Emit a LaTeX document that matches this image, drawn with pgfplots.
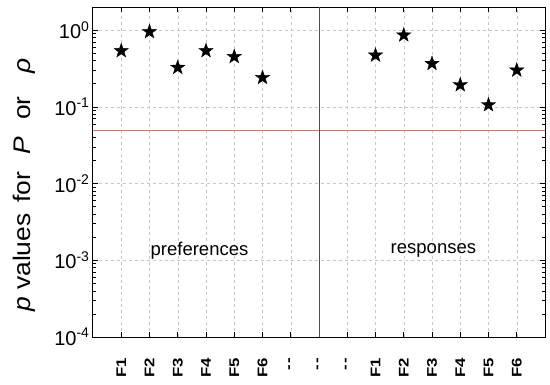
\documentclass[border=0pt]{standalone}
\usepackage{fontspec}
\setmainfont{Liberation Sans}
\usepackage{pgfplots}
\pgfplotsset{compat=1.18}
\definecolor{redline}{RGB}{220,110,100}
\definecolor{gridc}{RGB}{200,200,200}
\pgfdeclareplotmark{fstar}{%
  \pgfpathmoveto{\pgfpointpolar{90}{\pgfplotmarksize}}%
  \pgfpathlineto{\pgfpointpolar{126}{0.4\pgfplotmarksize}}%
  \pgfpathlineto{\pgfpointpolar{162}{\pgfplotmarksize}}%
  \pgfpathlineto{\pgfpointpolar{198}{0.4\pgfplotmarksize}}%
  \pgfpathlineto{\pgfpointpolar{234}{\pgfplotmarksize}}%
  \pgfpathlineto{\pgfpointpolar{270}{0.4\pgfplotmarksize}}%
  \pgfpathlineto{\pgfpointpolar{306}{\pgfplotmarksize}}%
  \pgfpathlineto{\pgfpointpolar{342}{0.4\pgfplotmarksize}}%
  \pgfpathlineto{\pgfpointpolar{18}{\pgfplotmarksize}}%
  \pgfpathlineto{\pgfpointpolar{54}{0.4\pgfplotmarksize}}%
  \pgfpathclose
  \pgfusepathqfillstroke}
\begin{document}
\begin{tikzpicture}
\begin{axis}[
  name=ax,
  scale only axis,
  width=452pt, height=330pt,
  ymode=log,
  xmin=0, xmax=16,
  ymin=1e-4, ymax=2,
  xtick={1,...,15},
  xtick pos=both, ytick pos=both,
  xticklabels={F1,F2,F3,F4,F5,F6,-\kern1pt-,-\kern1pt-,-\kern1pt-,F1,F2,F3,F4,F5,F6},
  xticklabel style={rotate=90, xscale=1.2, anchor=east, font=\bfseries\fontsize{14}{14}\selectfont},
  xticklabel shift=17pt,
  ytick={1e-4,1e-3,1e-2,1e-1,1},
  yticklabels={10\textsuperscript{-4},10\textsuperscript{-3},10\textsuperscript{-2},10\textsuperscript{-1},10\textsuperscript{0}},
  yticklabel style={font=\fontsize{20}{20}\selectfont},
  major tick length=5pt,
  minor tick length=3pt,
  grid=major,
  major grid style={dashed, gridc, line width=0.5pt},
  axis line style={line width=1pt},
  tick style={black, line width=0.6pt},
  ylabel={\textit{p} values\hspace{3pt} for\hspace{9pt} \textit{P}\hspace{9pt} or\hspace{14pt} \textit{ρ}},
  ylabel style={at={(axis description cs:-0.153,0.46)}, anchor=center, xscale=1.1, font=\fontsize{24}{24}\selectfont},
  clip=false,
]
\addplot[redline, line width=0.8pt, forget plot] coordinates {(0,0.05) (16,0.05)};
\addplot[black!70, line width=0.8pt, forget plot] coordinates {(8,1e-4) (8,2)};
\addplot[only marks, mark=fstar, mark size=7.5pt, black] coordinates {
  (1,0.537) (2,0.95) (3,0.325) (4,0.537) (5,0.45) (6,0.24)
};
\addplot[only marks, mark=fstar, mark size=7.5pt, black] coordinates {
  (10,0.47) (11,0.86) (12,0.366) (13,0.193) (14,0.106) (15,0.30)
};
\node[font=\fontsize{18.5}{18.5}\selectfont] at (axis cs:3.77,1.35e-3) {preferences};
\node[font=\fontsize{18.5}{18.5}\selectfont] at (axis cs:12.05,1.35e-3) {responses};
\end{axis}
\pgfresetboundingbox
\path[use as bounding box] ([shift={(-93pt,-47pt)}]ax.south west) rectangle ([shift={(5pt,7pt)}]ax.north east);
\end{tikzpicture}
\end{document}
